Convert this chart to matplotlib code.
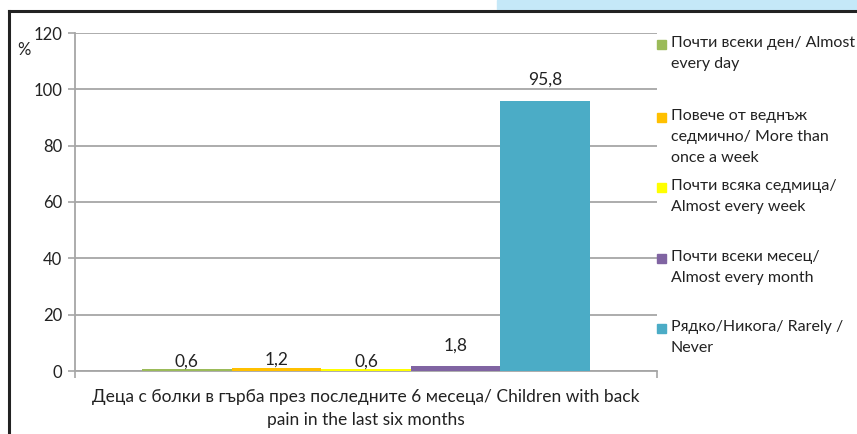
import numpy as np
import matplotlib.pyplot as plt
from matplotlib.patches import Rectangle
from matplotlib.lines import Line2D

plt.rcParams['font.family'] = ['Lato', 'DejaVu Sans']

# стойности в проценти
labels = ['Почти всеки ден/ Almost\nevery day',
          'Повече от веднъж\nседмично/ More than\nonce a week',
          'Почти всяка седмица/\nAlmost every week',
          'Почти всеки месец/\nAlmost every month',
          'Рядко/Никога/ Rarely /\nNever']
values = [0.6, 1.2, 0.6, 1.8, 95.8]
value_text = ['0,6', '1,2', '0,6', '1,8', '95,8']
colors = ['#9BBB59', '#FFC000', '#FFFF00', '#8064A2', '#4BACC6']
yticks = [0, 20, 40, 60, 80, 100, 120]
xlabel = 'Деца с болки в гърба през последните 6 месеца/ Children with back\npain in the last six months'

W, H = 857, 434
fig = plt.figure(figsize=(W / 100, H / 100), dpi=100)

def fx(px):
    return px / W

def fy(py):
    return 1 - py / H

# рамка и синята лента отгоре
fig.patches.append(Rectangle((fx(497), fy(10)), fx(W - 497), 10 / H,
                             transform=fig.transFigure, color='#C5E8F8', zorder=0))
fig.lines.append(Line2D([fx(9), 1], [fy(11), fy(11)], transform=fig.transFigure,
                        color='#222222', lw=2.2))
fig.lines.append(Line2D([fx(9), fx(9)], [fy(11), 0], transform=fig.transFigure,
                        color='#222222', lw=2.2))

ax = fig.add_axes([fx(75), fy(371), fx(657 - 75), (371 - 33) / H])

n = len(values)
group = 1 / 1.3
w = group / n
pos = -group / 2 + (np.arange(n) + 0.5) * w
bars = ax.bar(pos, values, width=w, color=colors, zorder=3)
# отстъп на надписите над стълбовете (pt)
label_pad = [0, 0, 0, 8.5, 9.5]
for b, t, p in zip(bars, value_text, label_pad):
    ax.annotate(t, (b.get_x() + b.get_width() / 2, b.get_height()),
                xytext=(0, p), textcoords='offset points',
                ha='center', va='bottom', fontsize=12.5, color='#222222')

ax.set_xlim(-0.5, 0.5)
ax.set_ylim(0, 120)
ax.set_yticks(yticks)
ax.set_yticklabels([str(v) for v in yticks], fontsize=12, color='#222222')
ax.grid(axis='y', color='#A6A6A6', lw=1.3, zorder=0)
ax.set_xticks([-0.5, 0.5])
ax.set_xticklabels(['', ''])
ax.tick_params(axis='x', length=5, width=1.2, color='#A6A6A6')
ax.tick_params(axis='y', length=5, width=1.2, color='#A6A6A6', pad=4)
for s in ['top', 'right']:
    ax.spines[s].set_visible(False)
for s in ['left', 'bottom']:
    ax.spines[s].set_color('#A6A6A6')
    ax.spines[s].set_linewidth(1.3)

fig.text(fx(24), fy(50), '%', fontsize=12, ha='center', va='center', color='#222222')
fig.text(fx(366), fy(389), xlabel, fontsize=12.5, ha='center', va='top',
         linespacing=1.5, color='#222222')

# легенда
leg_y = [45, 118, 188, 259, 329]
for lab, c, y in zip(labels, colors, leg_y):
    fig.patches.append(Rectangle((fx(657), fy(y + 4)), fx(9), 9 / H,
                                 transform=fig.transFigure, color=c))
    fig.text(fx(671), fy(y - 9), lab, fontsize=11.5, ha='left', va='top',
             linespacing=1.65, color='#222222')

fig.savefig('out.png', dpi=100)
